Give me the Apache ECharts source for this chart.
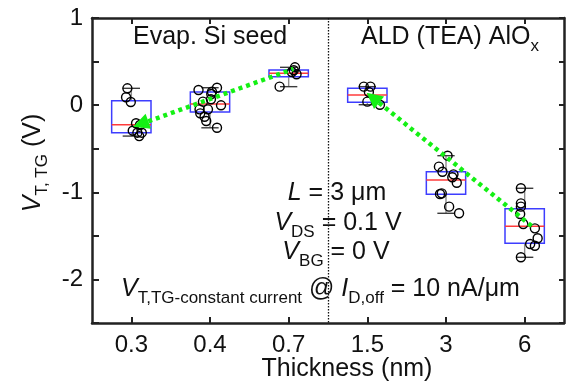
<!DOCTYPE html>
<html>
<head>
<meta charset="utf-8">
<script src="https://cdn.jsdelivr.net/npm/echarts@6/dist/echarts.min.js"></script>
<style>
  html, body { margin: 0; padding: 0; background: #fff; }
  #chart { width: 567px; height: 386px; }
</style>
</head>
<body>
<div id="chart"></div>
<script>
// Film thickness categories (nm), used as x tick labels
const categories = ['0.3', '0.4', '0.7', '1.5', '3', '6'];

// Box statistics per thickness (V)
const boxLow    = [-0.355, -0.26, 0.212, 0.005, -1.241, -1.746];
const boxQ1     = [-0.316, -0.079, 0.326, 0.033, -1.023, -1.585];
const boxMedian = [-0.224, 0.013, 0.365, 0.116, -0.859, -1.390];
const boxQ3     = [0.051, 0.151, 0.403, 0.193, -0.764, -1.188];
const boxHigh   = [0.193, 0.20, 0.434, 0.212, -0.580, -0.954];

// Individual device threshold voltages (V) and their horizontal spread (category units)
const vt03 = [0.193, 0.09, 0.036, -0.208, -0.228, -0.293, -0.316, -0.316, -0.355];
const jit03 = [-0.05, -0.067, -0.007, 0.06, 0.11, 0.018, 0.077, 0.133, 0.1];
const vt04 = [0.2, 0.174, 0.154, 0.128, 0.067, 0.04, -0.002, -0.048, -0.048, -0.094, -0.133, -0.182, -0.26];
const jit04 = [0.089, -0.146, 0.025, 0.016, 0.012, -0.09, 0.14, -0.133, -0.026, -0.124, -0.069, -0.048, 0.089];
const vt07 = [0.434, 0.40, 0.38, 0.355, 0.212];
const jit07 = [0.08, 0.065, 0.04, 0.1, -0.115];
const vt15 = [0.212, 0.212, 0.15, 0.04, 0.005];
const jit15 = [-0.045, 0.04, 0.02, 0.0, 0.16];
const vt3 = [-0.58, -0.706, -0.764, -0.794, -0.828, -0.89, -1.012, -1.02, -1.165, -1.241];
const jit3 = [0.02, -0.09, -0.045, 0.095, 0.08, 0.137, -0.054, -0.076, 0.04, 0.166];
const vt6 = [-0.954, -1.127, -1.165, -1.249, -1.364, -1.414, -1.528, -1.594, -1.613, -1.746];
const jit6 = [-0.048, -0.048, -0.048, -0.057, -0.018, 0.13, 0.165, 0.07, 0.13, -0.048];

// Trend arrows: [head, tail] in (category index, V)
const trendSiSeed = [[0.12, -0.217], [2.06, 0.415]];
const trendAlOx = [[3.07, 0.085], [5.12, -1.41]];

const FONT = '"Liberation Sans", Arial, Helvetica, sans-serif';
const INK = '#111';

const groups = [[vt03, jit03], [vt04, jit04], [vt07, jit07], [vt15, jit15], [vt3, jit3], [vt6, jit6]];
const devicePoints = [];
groups.forEach(function (g, i) {
  g[0].forEach(function (v, k) { devicePoints.push([i + g[1][k], v]); });
});

const boxData = categories.map(function (c, i) {
  return [i, boxLow[i], boxQ1[i], boxMedian[i], boxQ3[i], boxHigh[i]];
});

function renderBox(params, api) {
  const i = api.value(0);
  const lo = api.coord([i, api.value(1)]);
  const q1 = api.coord([i, api.value(2)]);
  const md = api.coord([i, api.value(3)]);
  const q3 = api.coord([i, api.value(4)]);
  const hi = api.coord([i, api.value(5)]);
  const band = api.size([1, 0])[0];
  const half = band * 0.25;
  const cap = band * 0.11;
  const x = lo[0];
  const whisker = { stroke: '#8c8c8c', lineWidth: 1.4 };
  const capStyle = { stroke: '#3c3c3c', lineWidth: 1.4 };
  return {
    type: 'group',
    children: [
      { type: 'line', shape: { x1: x, y1: hi[1], x2: x, y2: q3[1] }, style: whisker },
      { type: 'line', shape: { x1: x, y1: q1[1], x2: x, y2: lo[1] }, style: whisker },
      { type: 'line', shape: { x1: x - cap, y1: hi[1], x2: x + cap, y2: hi[1] }, style: capStyle },
      { type: 'line', shape: { x1: x - cap, y1: lo[1], x2: x + cap, y2: lo[1] }, style: capStyle },
      { type: 'rect', shape: { x: x - half, y: q3[1], width: half * 2, height: q1[1] - q3[1] },
        style: { fill: 'none', stroke: '#3d3dff', lineWidth: 1.5 } },
      { type: 'line', shape: { x1: x - half, y1: md[1], x2: x + half, y2: md[1] },
        style: { stroke: '#ff3b3b', lineWidth: 1.5 } }
    ]
  };
}

const rich = {
  n: { fontSize: 25, fontFamily: FONT, color: INK },
  i: { fontSize: 25, fontFamily: FONT, fontStyle: 'italic', color: INK },
  s: { fontSize: 17, fontFamily: FONT, color: INK, padding: [19, 0, 0, 0] }
};

function label(text, x, y, align, extra) {
  const el = {
    type: 'text', x: x, y: y, z: 100,
    style: { text: text, rich: rich, align: align, verticalAlign: 'middle', fill: INK, font: '25px ' + FONT }
  };
  return Object.assign(el, extra || {});
}

const axisLineStyle = { color: '#222', width: 2.5 };

const chart = echarts.init(document.getElementById('chart'), null, { renderer: 'canvas' });
chart.setOption({
  animation: false,
  backgroundColor: '#fff',
  grid: { left: 92, right: 3, top: 18, bottom: 63, containLabel: false },
  xAxis: [
    {
      type: 'category', data: categories, position: 'bottom',
      axisLine: { show: true, onZero: false, lineStyle: axisLineStyle },
      axisTick: { show: true, inside: true, alignWithLabel: true, length: 6, lineStyle: { color: '#222', width: 2 } },
      axisLabel: { fontSize: 24, fontFamily: FONT, color: INK, margin: 10 },
      splitLine: { show: false }
    },
    {
      type: 'category', data: categories, position: 'top',
      axisLine: { show: true, onZero: false, lineStyle: axisLineStyle },
      axisTick: { show: true, inside: true, alignWithLabel: true, length: 6, lineStyle: { color: '#222', width: 2 } },
      axisLabel: { show: false },
      splitLine: { show: false }
    },
    { type: 'value', min: -0.5, max: 5.5, show: false, axisLine: { onZero: false } }
  ],
  yAxis: [
    {
      type: 'value', min: -2.5, max: 1, interval: 0.5, position: 'left',
      axisLine: { show: true, onZero: false, lineStyle: axisLineStyle },
      axisTick: { show: true, inside: true, length: 7, lineStyle: { color: '#222', width: 2 } },
      axisLabel: {
        fontSize: 24, fontFamily: FONT, color: INK, margin: 9,
        formatter: function (v) { return Number.isInteger(v) ? String(v) : ''; }
      },
      splitLine: { show: false }
    },
    {
      type: 'value', min: -2.5, max: 1, interval: 0.5, position: 'right',
      axisLine: { show: true, onZero: false, lineStyle: axisLineStyle },
      axisTick: { show: true, inside: true, length: 5, lineStyle: { color: '#222', width: 2 } },
      axisLabel: { show: false },
      splitLine: { show: false }
    }
  ],
  series: [
    {
      type: 'lines', coordinateSystem: 'cartesian2d', xAxisIndex: 2, yAxisIndex: 0, z: 1,
      symbol: 'none', silent: true,
      lineStyle: { color: '#111', width: 1.3, type: [1.5, 1.5], opacity: 1 },
      data: [{ coords: [[2.5, 1], [2.5, -2.5]] }]
    },
    {
      type: 'custom', xAxisIndex: 2, yAxisIndex: 0, z: 2,
      renderItem: renderBox, data: boxData
    },
    {
      type: 'scatter', xAxisIndex: 2, yAxisIndex: 0, z: 3,
      symbol: 'circle', symbolSize: 9,
      itemStyle: { color: 'rgba(255,255,255,0)', borderColor: '#000', borderWidth: 1.4, opacity: 1 },
      data: devicePoints
    },
    {
      type: 'lines', coordinateSystem: 'cartesian2d', xAxisIndex: 2, yAxisIndex: 0, z: 4,
      symbol: ['triangle', 'none'], symbolSize: 16,
      lineStyle: { color: '#14f014', width: 4.5, type: [4, 4], opacity: 1, curveness: 0 },
      itemStyle: { color: '#14f014' },
      data: [{ coords: trendSiSeed }, { coords: trendAlOx }]
    }
  ],
  graphic: [
    label('{n|Evap. Si seed}', 133, 37, 'left'),
    label('{n|ALD (TEA) AlO}{s|x}', 361, 37, 'left'),
    label('{i|L}{n| = 3 μm}', 337, 193, 'center'),
    label('{i|V}{s|DS}{n| = 0.1 V}', 338, 223, 'center'),
    label('{i|V}{s|BG}{n| = 0 V}', 336, 252, 'center'),
    label('{i|V}{s|T,TG-constant current}{n| @ }{i|I}{s|D,off}{n| = 10 nA/μm}', 121, 289, 'left'),
    label('{n|Thickness (nm)}', 347, 369, 'center'),
    label('{i|V}{s|T, TG}{n| (V)}', 33, 163, 'center', { rotation: Math.PI / 2 })
  ]
});
</script>
</body>
</html>
